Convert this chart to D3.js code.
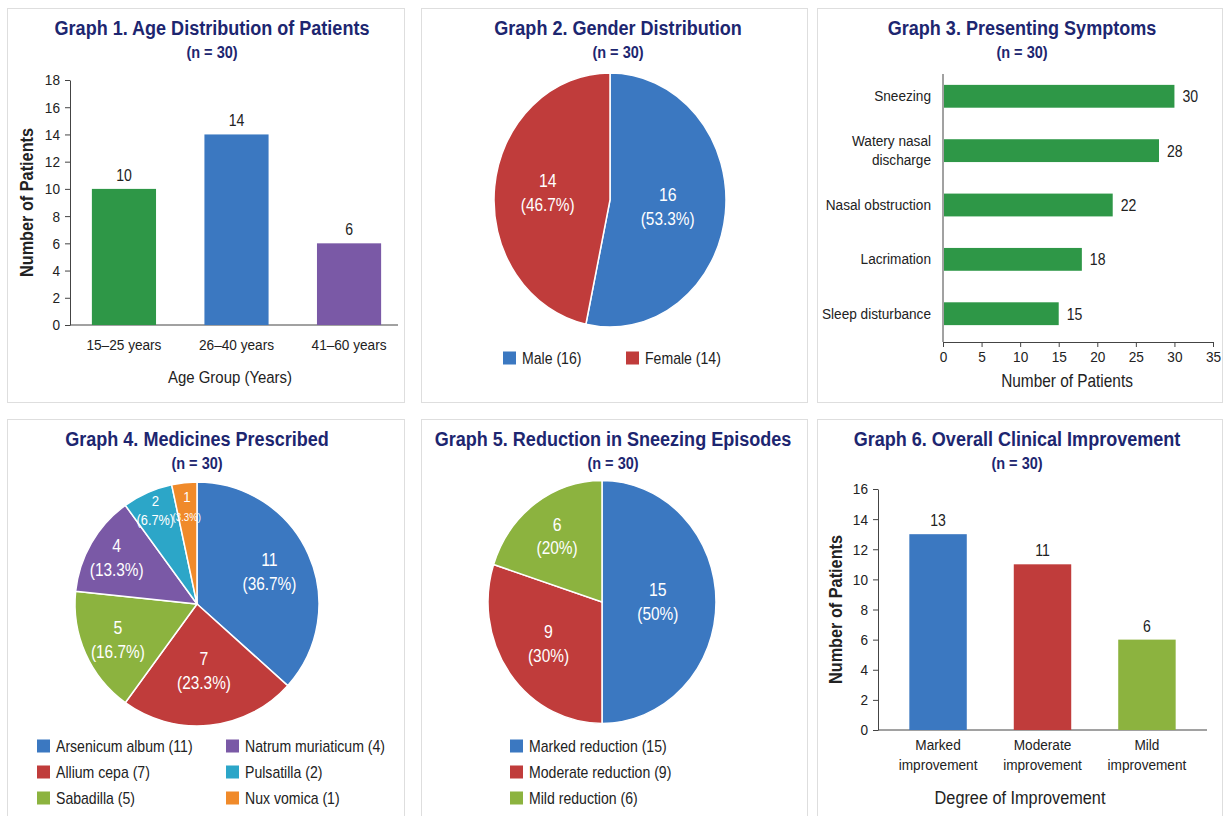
<!DOCTYPE html>
<html>
<head>
<meta charset="utf-8">
<script src="https://cdn.jsdelivr.net/npm/d3@7"></script>
<style>
  body { margin: 0; background: #fff; }
  svg { display: block; font-family: "Liberation Sans", Arial, sans-serif; }
</style>
</head>
<body>
<svg width="1225" height="816"></svg>
<script>
// data
var ageGroups = ["15–25 years", "26–40 years", "41–60 years"];
var ageCounts = [10, 14, 6];
var ageTicks = [0, 2, 4, 6, 8, 10, 12, 14, 16, 18];

var genderLabels = ["Male", "Female"];
var genderCounts = [16, 14];

var symptoms = ["Sneezing", "Watery nasal\ndischarge", "Nasal obstruction", "Lacrimation", "Sleep disturbance"];
var symptomCounts = [30, 28, 22, 18, 15];
var symptomTicks = [0, 5, 10, 15, 20, 25, 30, 35];

var medicines = ["Arsenicum album", "Allium cepa", "Sabadilla", "Natrum muriaticum", "Pulsatilla", "Nux vomica"];
var medicineCounts = [11, 7, 5, 4, 2, 1];

var sneezeLabels = ["Marked reduction", "Moderate reduction", "Mild reduction"];
var sneezeCounts = [15, 9, 6];

var improvementLabels = ["Marked\nimprovement", "Moderate\nimprovement", "Mild\nimprovement"];
var improvementCounts = [13, 11, 6];
var improvementTicks = [0, 2, 4, 6, 8, 10, 12, 14, 16];

var total = 30;

var BLUE = "#3b78c1", RED = "#c03c3b", GREEN = "#2e9747", PURPLE = "#7a59a6",
    LGREEN = "#8cb33f", CYAN = "#2ca6c8", ORANGE = "#f08a2a", NAVY = "#1d2670", INK = "#222";

// the reference type is a narrow face, so every label gets squeezed sideways
var SX = 0.88;

var svg = d3.select("svg");

function pct(v) {
    var s = d3.format(".1f")(v / total * 100);
    return s.replace(/\.0$/, "") + "%";
}

// panels
var panels = [[7, 8, 397, 394], [421, 8, 386, 394], [817, 8, 405, 394],
              [7, 419, 397, 410], [421, 419, 386, 410], [817, 419, 405, 410]];
svg.selectAll("rect.panel")
    .data(panels)
    .enter().append("rect")
    .attr("class", "panel")
    .attr("x", function(d) { return d[0] + 0.5; })
    .attr("y", function(d) { return d[1] + 0.5; })
    .attr("width", function(d) { return d[2]; })
    .attr("height", function(d) { return d[3]; })
    .attr("fill", "#fff")
    .attr("stroke", "#dedede");

function title(cx, y, text) {
    svg.append("text")
        .attr("x", cx).attr("y", y)
        .attr("text-anchor", "middle")
        .attr("fill", NAVY)
        .attr("font-weight", "bold")
        .attr("font-size", 20.5)
        .text(text);
    svg.append("text")
        .attr("x", cx).attr("y", y + 23)
        .attr("text-anchor", "middle")
        .attr("fill", NAVY)
        .attr("font-weight", "bold")
        .attr("font-size", 16.5)
        .text("(n = " + total + ")");
}

function multiline(sel, text, lh) {
    var lines = text.split("\n");
    lines.forEach(function(l, i) {
        sel.append("tspan")
            .attr("x", 0)
            .attr("dy", i == 0 ? -(lines.length - 1) * lh / 2 : lh)
            .text(l);
    });
}

function styleAxis(g) {
    g.selectAll("path, line").attr("stroke", "#444");
    g.selectAll("text").attr("fill", INK).attr("font-size", 15.5).attr("font-family", null);
}

// vertical bar chart
function vbars(opt) {
    var y = d3.scaleLinear().domain(opt.yDomain).range([opt.y0, opt.y1]);
    var x = d3.scaleBand().domain(opt.cats).range(opt.xRange)
        .paddingInner(opt.padIn).paddingOuter(opt.padOut);

    var ya = svg.append("g")
        .attr("transform", "translate(" + opt.x0 + ",0)")
        .call(d3.axisLeft(y).tickValues(opt.ticks).tickSize(5).tickSizeOuter(0).tickPadding(5));
    styleAxis(ya);

    var xa = svg.append("g")
        .attr("transform", "translate(0," + opt.y0 + ")")
        .call(d3.axisBottom(x).tickSize(0).tickPadding(0));
    xa.select(".domain").remove();
    styleAxis(xa);
    xa.selectAll(".tick text").each(function(d) {
        var t = d3.select(this).text("").attr("y", opt.tickY).attr("dy", null);
        multiline(t, d, 20);
    });

    svg.append("line")
        .attr("x1", opt.x0).attr("x2", opt.xEnd)
        .attr("y1", opt.y0).attr("y2", opt.y0)
        .attr("stroke", "#444");

    svg.append("g").selectAll("rect")
        .data(opt.values)
        .enter().append("rect")
        .attr("x", function(d, i) { return x(opt.cats[i]); })
        .attr("y", function(d) { return y(d); })
        .attr("width", x.bandwidth())
        .attr("height", function(d) { return opt.y0 - y(d); })
        .attr("fill", function(d, i) { return opt.colors[i]; });

    svg.append("g").selectAll("text")
        .data(opt.values)
        .enter().append("text")
        .attr("x", function(d, i) { return x(opt.cats[i]) + x.bandwidth() / 2; })
        .attr("y", function(d) { return y(d) - 8; })
        .attr("text-anchor", "middle")
        .attr("fill", INK)
        .attr("font-size", 16)
        .text(function(d) { return d; });

    svg.append("text")
        .attr("transform", "translate(" + opt.yTitleX + "," + (opt.y0 + opt.y1) / 2 + ") rotate(-90)")
        .attr("text-anchor", "middle")
        .attr("fill", INK)
        .attr("font-weight", "bold")
        .attr("font-size", 18.5)
        .text("Number of Patients");

    svg.append("text")
        .attr("x", opt.xTitleX).attr("y", opt.xTitleY)
        .attr("text-anchor", "middle")
        .attr("fill", INK)
        .attr("font-size", opt.xTitleSize)
        .text(opt.xTitle);
}

// pie chart
function pie(opt) {
    var arcs = d3.pie().sort(null)(opt.values);
    var arc = d3.arc().innerRadius(0).outerRadius(opt.r);

    var g = svg.append("g")
        .attr("transform", "translate(" + opt.cx + "," + opt.cy + ") scale(1," + opt.sy + ")");
    g.selectAll("path")
        .data(arcs)
        .enter().append("path")
        .attr("d", arc)
        .attr("fill", function(d, i) { return opt.colors[i]; })
        .attr("stroke", "#fff")
        .attr("stroke-width", 1.5)
        .attr("vector-effect", "non-scaling-stroke");

    var lab = svg.append("g")
        .attr("transform", "translate(" + opt.cx + "," + opt.cy + ")");
    lab.selectAll("text")
        .data(arcs)
        .enter().append("text")
        .each(function(d, i) {
            var share = d.value / total;
            var lr = opt.r * opt.labelFracs[i];
            var c = d3.arc().innerRadius(lr).outerRadius(lr).centroid(d);
            var fs = share < 0.05 ? 11 : share < 0.1 ? 14.5 : 17.5;
            var fs1 = share < 0.05 ? 15 : fs + 0.5;
            var lh = share < 0.05 ? 20 : share < 0.1 ? 19 : 24;
            var t = d3.select(this)
                .attr("transform", "translate(" + c[0] + "," + (c[1] * opt.sy) + ")")
                .attr("text-anchor", "middle")
                .attr("fill", "#fff")
                .attr("font-size", fs);
            t.append("tspan").attr("x", 0).attr("y", -lh / 2 + fs1 * 0.36).attr("font-size", fs1).text(d.value);
            t.append("tspan").attr("x", 0).attr("y", lh / 2 + fs * 0.36).text("(" + pct(d.value) + ")");
        });
}

function legend(items, colors, x, y) {
    var g = svg.append("g");
    var it = g.selectAll("g")
        .data(items)
        .enter().append("g")
        .attr("transform", function(d, i) { return "translate(" + x(i) + "," + y(i) + ")"; });
    it.append("rect")
        .attr("x", 0).attr("y", -6.5)
        .attr("width", 13).attr("height", 13)
        .attr("fill", function(d, i) { return colors[i]; });
    it.append("text")
        .attr("x", 19).attr("y", 5.5)
        .attr("fill", INK)
        .attr("font-size", 16)
        .text(function(d) { return d; });
}

// Graph 1
title(212, 35, "Graph 1. Age Distribution of Patients");
vbars({
    cats: ageGroups, values: ageCounts, ticks: ageTicks,
    colors: [GREEN, BLUE, PURPLE],
    yDomain: [0, 18], y0: 325, y1: 80,
    x0: 70, xEnd: 398, xRange: [75, 398], padIn: 0.43, padOut: 0.15,
    tickY: 25, yTitleX: 33, xTitle: "Age Group (Years)", xTitleX: 230, xTitleY: 383, xTitleSize: 17
});

// Graph 2
title(618, 35, "Graph 2. Gender Distribution");
pie({ values: genderCounts, colors: [BLUE, RED], cx: 610, cy: 200, r: 116, sy: 1.095, labelFracs: [0.5, 0.54] });
legend(genderLabels.map(function(d, i) { return d + " (" + genderCounts[i] + ")"; }), [BLUE, RED],
    function(i) { return [503, 626][i]; }, function() { return 358; });

// Graph 3
title(1022, 35, "Graph 3. Presenting Symptoms");
(function() {
    var x = d3.scaleLinear().domain([0, 35]).range([943, 1213]);
    var y = d3.scaleBand().domain(symptoms).range([74, 336]).paddingInner(0.58).paddingOuter(0.2);
    var base = 342;

    var xa = svg.append("g")
        .attr("transform", "translate(0," + base + ")")
        .call(d3.axisBottom(x).tickValues(symptomTicks).tickSize(5).tickSizeOuter(0).tickPadding(4));
    styleAxis(xa);

    svg.append("line")
        .attr("x1", x(0)).attr("x2", x(0))
        .attr("y1", 74).attr("y2", base)
        .attr("stroke", "#444");

    svg.append("g").selectAll("rect")
        .data(symptomCounts)
        .enter().append("rect")
        .attr("x", x(0) + 1)
        .attr("y", function(d, i) { return y(symptoms[i]); })
        .attr("width", function(d) { return x(d) - x(0) - 1; })
        .attr("height", y.bandwidth())
        .attr("fill", GREEN);

    svg.append("g").selectAll("text")
        .data(symptomCounts)
        .enter().append("text")
        .attr("x", function(d) { return x(d) + 8; })
        .attr("y", function(d, i) { return y(symptoms[i]) + y.bandwidth() / 2 + 6; })
        .attr("fill", INK)
        .attr("font-size", 16)
        .text(function(d) { return d; });

    svg.append("g").selectAll("text")
        .data(symptoms)
        .enter().append("text")
        .attr("transform", function(d) { return "translate(931," + (y(d) + y.bandwidth() / 2 + 5) + ")"; })
        .attr("text-anchor", "end")
        .attr("fill", INK)
        .attr("font-size", 15.5)
        .each(function(d) { multiline(d3.select(this), d, 19); });

    svg.append("text")
        .attr("x", 1067).attr("y", 387)
        .attr("text-anchor", "middle")
        .attr("fill", INK)
        .attr("font-size", 17.5)
        .text("Number of Patients");
})();

// Graph 4
title(197, 446, "Graph 4. Medicines Prescribed");
pie({ values: medicineCounts, colors: [BLUE, RED, LGREEN, PURPLE, CYAN, ORANGE], cx: 197, cy: 604, r: 122, sy: 1,
      labelFracs: [0.65, 0.55, 0.71, 0.76, 0.84, 0.8] });
legend(medicines.map(function(d, i) { return d + " (" + medicineCounts[i] + ")"; }),
    [BLUE, RED, LGREEN, PURPLE, CYAN, ORANGE],
    function(i) { return i < 3 ? 37 : 226; },
    function(i) { return [746, 772, 798][i % 3]; });

// Graph 5
title(613, 446, "Graph 5. Reduction in Sneezing Episodes");
pie({ values: sneezeCounts, colors: [BLUE, RED, LGREEN], cx: 602, cy: 602, r: 114, sy: 1.065, labelFracs: [0.49, 0.58, 0.67] });
legend(sneezeLabels.map(function(d, i) { return d + " (" + sneezeCounts[i] + ")"; }),
    [BLUE, RED, LGREEN],
    function() { return 510; },
    function(i) { return [746, 772, 798][i]; });

// Graph 6
title(1017, 446, "Graph 6. Overall Clinical Improvement");
vbars({
    cats: improvementLabels, values: improvementCounts, ticks: improvementTicks,
    colors: [BLUE, RED, LGREEN],
    yDomain: [0, 16], y0: 730, y1: 489,
    x0: 878, xEnd: 1207, xRange: [878, 1207], padIn: 0.45, padOut: 0.3,
    tickY: 30, yTitleX: 842, xTitle: "Degree of Improvement", xTitleX: 1020, xTitleY: 804, xTitleSize: 18.5
});

// squeeze all text horizontally around its anchor point
svg.selectAll("text").each(function() {
    var t = d3.select(this);
    var x = +t.attr("x") || 0, y = +t.attr("y") || 0;
    var tr = t.attr("transform") || "";
    t.attr("transform", tr + " translate(" + x + "," + y + ") scale(" + SX + ",1)")
        .attr("x", null).attr("y", null);
});
</script>
</body>
</html>
